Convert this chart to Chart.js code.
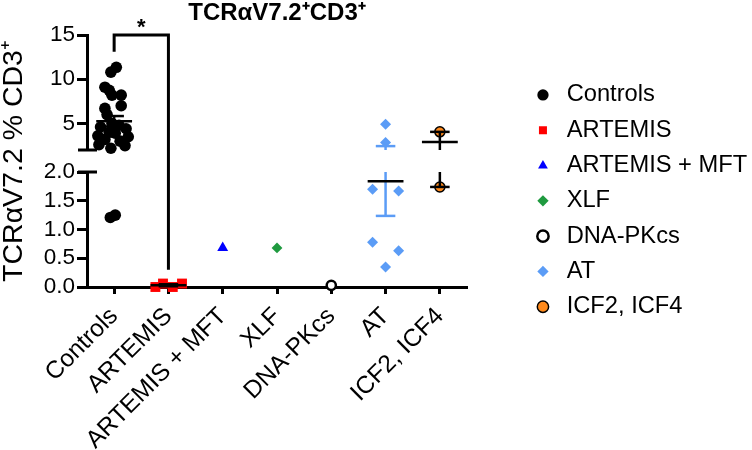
<!DOCTYPE html>
<html>
<head>
<meta charset="utf-8">
<script src="https://cdn.jsdelivr.net/npm/chart.js@4.4.1/dist/chart.umd.min.js"></script>
<style>
  html, body { margin: 0; padding: 0; background: #fff; }
  #wrap { width: 752px; height: 450px; }
</style>
</head>
<body>
<div id="wrap"><canvas id="grafico" width="752" height="450"></canvas></div>
<script>
const categories = ['Controls', 'ARTEMIS', 'ARTEMIS + MFT', 'XLF', 'DNA-PKcs', 'AT', 'ICF2, ICF4'];

// % TCRaV7.2 in CD3+
const controlsValues = [11.35, 10.8, 9.1, 8.75, 8.2, 8.2, 7.0, 6.7, 6.0, 5.0, 4.6, 4.8,
                        4.4, 4.0, 3.9, 3.6, 3.5, 3.2, 3.0, 2.6, 2.5, 2.2, 1.25, 1.21];
const controlsJitter = [0.04, -0.06, -0.17, -0.09, -0.04, 0.13, 0.13, -0.17, -0.13, -0.04, -0.25, 0.09,
                        0.22, -0.09, 0.02, -0.3, 0.26, -0.17, 0.11, -0.28, 0.2, -0.06, 0.02, -0.07];
const artemisValues = [0.0, 0.06, 0.0, 0.06];
const artemisJitter = [-0.24, -0.1, 0.08, 0.25];
const artemisMftValues = [0.68];
const xlfValues = [0.68];
const dnaPkcsValues = [0.03];
const atValues = [4.9, 2.84, 1.70, 1.67, 0.78, 0.63, 0.35];
const atJitter = [0, 0, -0.24, 0.24, -0.24, 0.24, 0];
const icfValues = [4.05, 1.74];

// broken y axis
const lowerTicks = [0, 0.5, 1, 1.5, 2];
const upperTicks = [5, 10, 15];
const breakAt = 2;

const FONT = "'Liberation Sans', Arial, Helvetica, sans-serif";
Chart.defaults.font.family = FONT;
Chart.defaults.color = '#000';

const groups = [
  { values: controlsValues, jitter: controlsJitter, style: 'circle', r: 5.8, fill: '#000000', stroke: '#000000', bw: 0, err: '#000' },
  { values: artemisValues, jitter: artemisJitter, style: 'rect', r: 7, fill: '#ff0000', stroke: '#ff0000', bw: 0, err: '#000' },
  { values: artemisMftValues, style: 'triangle', r: 6.3, fill: '#0000ff', stroke: '#0000ff', bw: 0, err: '#000' },
  { values: xlfValues, style: 'rectRot', r: 5.4, fill: '#1f9a3f', stroke: '#1f9a3f', bw: 0, err: '#000' },
  { values: dnaPkcsValues, style: 'circle', r: 4.6, fill: '#ffffff', stroke: '#000000', bw: 2.5, err: '#000' },
  { values: atValues, jitter: atJitter, style: 'rectRot', r: 5.5, fill: '#5b9cf6', stroke: '#5b9cf6', bw: 0, err: '#5b9cf6' },
  { values: icfValues, style: 'circle', r: 5, fill: '#ff8a1c', stroke: '#000000', bw: 1.5, err: '#000' }
];

function makeSet(gi, pts, axis) {
  const g = groups[gi];
  return {
    label: categories[gi],
    data: pts,
    xAxisID: 'x',
    yAxisID: axis,
    showLine: false,
    clip: false,
    pointStyle: g.style,
    pointRadius: g.r,
    pointHoverRadius: g.r,
    backgroundColor: g.fill,
    borderColor: g.stroke,
    pointBackgroundColor: g.fill,
    pointBorderColor: g.stroke,
    pointBorderWidth: g.bw,
    borderWidth: g.bw
  };
}

const datasets = [];
groups.forEach((g, gi) => {
  const hi = [], lo = [];
  g.values.forEach((v, k) => {
    const pt = { x: gi + (g.jitter ? g.jitter[k] : 0), y: v };
    (v >= breakAt ? hi : lo).push(pt);
  });
  if (hi.length) datasets.push(makeSet(gi, hi, 'yHigh'));
  if (lo.length) datasets.push(makeSet(gi, lo, 'yLow'));
});

function meanSem(vals) {
  const n = vals.length;
  const m = vals.reduce((a, b) => a + b, 0) / n;
  const sd = Math.sqrt(vals.reduce((a, b) => a + (b - m) * (b - m), 0) / (n - 1));
  return { m, s: sd / Math.sqrt(n) };
}

// mean/SEM, axis break caps, significance bracket
const extras = {
  id: 'extras',
  afterDatasetsDraw(chart) {
    const { ctx } = chart;
    const x = chart.scales.x, lo = chart.scales.yLow, hi = chart.scales.yHigh;
    const yPix = v => (v >= breakAt ? hi : lo).getPixelForValue(v);
    ctx.save();
    ctx.lineCap = 'butt';

    groups.forEach((g, gi) => {
      if (g.values.length < 2) return;
      const { m, s } = meanSem(g.values);
      const a = m - s, b = m + s;
      ctx.strokeStyle = g.err;
      ctx.lineWidth = 2.5;
      const cx = x.getPixelForValue(gi);
      [[lo, 0, breakAt], [hi, breakAt, hi.max]].forEach(([sc, s0, s1]) => {
        const top = Math.min(b, s1), bot = Math.max(a, s0);
        if (top > bot) {
          ctx.beginPath();
          ctx.moveTo(cx, sc.getPixelForValue(top));
          ctx.lineTo(cx, sc.getPixelForValue(bot));
          ctx.stroke();
        }
      });
      [a, b].forEach(v => {
        const py = yPix(v);
        ctx.beginPath();
        ctx.moveTo(x.getPixelForValue(gi - 0.18), py);
        ctx.lineTo(x.getPixelForValue(gi + 0.18), py);
        ctx.stroke();
      });
      ctx.strokeStyle = '#000';
      ctx.beginPath();
      ctx.moveTo(x.getPixelForValue(gi - 0.33), yPix(m));
      ctx.lineTo(x.getPixelForValue(gi + 0.33), yPix(m));
      ctx.stroke();
    });

    // caps at the axis break
    ctx.strokeStyle = '#000';
    ctx.lineWidth = 3;
    const ax = lo.right;
    [hi.bottom, lo.top].forEach(py => {
      ctx.beginPath();
      ctx.moveTo(ax - 9, py);
      ctx.lineTo(ax + 10, py);
      ctx.stroke();
    });

    // Controls vs ARTEMIS bracket
    const x0 = x.getPixelForValue(0), x1 = x.getPixelForValue(1);
    const yTop = yPix(15);
    ctx.beginPath();
    ctx.moveTo(x0, yPix(13.1));
    ctx.lineTo(x0, yTop);
    ctx.lineTo(x1, yTop);
    ctx.lineTo(x1, yPix(0.3));
    ctx.stroke();
    ctx.fillStyle = '#000';
    ctx.font = 'bold 22px ' + FONT;
    ctx.textAlign = 'center';
    ctx.textBaseline = 'alphabetic';
    ctx.fillText('*', (x0 + x1) / 2, yTop - 1);
    ctx.restore();
  }
};

const axisCommon = {
  grid: { drawOnChartArea: false, tickLength: 10, tickWidth: 3, tickColor: '#000' },
  border: { width: 3, color: '#000' }
};

new Chart(document.getElementById('grafico'), {
  type: 'scatter',
  data: { datasets },
  options: {
    responsive: false,
    animation: false,
    layout: { padding: 0 },
    scales: {
      x: {
        type: 'linear', position: 'bottom', min: -0.5, max: 6.5,
        afterBuildTicks: s => { s.ticks = categories.map((c, i) => ({ value: i })); },
        ticks: { autoSkip: false, maxRotation: 45, minRotation: 45, padding: 8, font: { size: 24.5 }, color: '#000',
                 callback: v => categories[v] },
        grid: { drawOnChartArea: false, tickLength: 7, tickWidth: 3, tickColor: '#000' },
        border: { width: 3, color: '#000' },
        afterFit: s => { s.height = 163; }
      },
      yLow: {
        type: 'linear', position: 'left', stack: 'y', stackWeight: 115, min: 0, max: breakAt,
        afterBuildTicks: s => { s.ticks = lowerTicks.map(v => ({ value: v })); },
        ticks: { autoSkip: false, padding: 2, font: { size: 22.5 }, color: '#000', callback: v => v.toFixed(1) },
        ...axisCommon,
        afterFit: s => { s.width = 52; }
      },
      yGap: {
        type: 'linear', position: 'left', stack: 'y', stackWeight: 22, min: 0, max: 1, display: false
      },
      yHigh: {
        type: 'linear', position: 'left', stack: 'y', stackWeight: 115, min: breakAt, max: 15,
        afterBuildTicks: s => { s.ticks = upperTicks.map(v => ({ value: v })); },
        ticks: { autoSkip: false, padding: 2, font: { size: 22.5 }, color: '#000', callback: v => String(v) },
        ...axisCommon,
        afterFit: s => { s.width = 52; }
      },
      yTitle: {
        type: 'linear', position: 'left', weight: 10, min: 0, max: 1,
        ticks: { display: false }, grid: { display: false }, border: { display: false },
        title: { display: true, text: 'TCRαV7.2 % CD3⁺', font: { size: 28.5, lineHeight: 1 }, color: '#000',
                 padding: { top: 0, bottom: 0 } },
        afterFit: s => { s.width = 35; }
      },
      yPad: {
        type: 'linear', position: 'right', min: 0, max: 1,
        ticks: { display: false }, grid: { display: false }, border: { display: false },
        afterFit: s => { s.width = 52.5; }
      }
    },
    plugins: {
      tooltip: { enabled: false },
      title: {
        display: true, text: 'TCRαV7.2⁺CD3⁺', fullSize: false,
        font: { size: 24, weight: 'bold', lineHeight: 1.1 }, color: '#000',
        padding: { top: 0, bottom: 8.6 }
      },
      legend: {
        position: 'right', align: 'start', maxWidth: 232.5,
        title: { display: true, text: '', font: { size: 12 }, padding: { top: 57.1, bottom: 0 } },
        labels: {
          usePointStyle: true, boxWidth: 24, boxHeight: 8, padding: 11.6,
          font: { size: 23.7 }, color: '#000',
          filter: (item, data) => data.datasets.findIndex(d => d.label === item.text) === item.datasetIndex
        }
      }
    }
  },
  plugins: [extras]
});
</script>
</body>
</html>
